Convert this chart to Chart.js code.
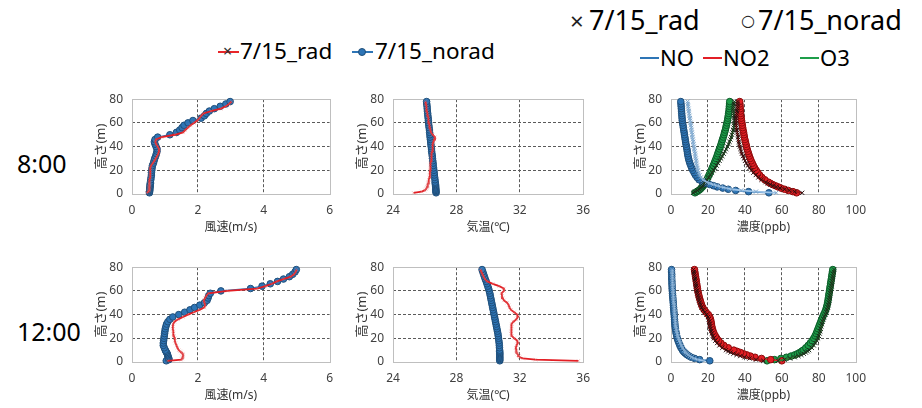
<!DOCTYPE html>
<html>
<head>
<meta charset="utf-8">
<script src="https://cdn.jsdelivr.net/npm/chart.js@4.4.0/dist/chart.umd.min.js"></script>
<style>
  body { margin: 0; width: 922px; height: 408px; background: #fff; position: relative; overflow: hidden; }
  .t { position: absolute; white-space: nowrap; font-family: 'Noto Sans', 'Noto Sans CJK JP', sans-serif; color: #000; }
  .ln { position: absolute; height: 2px; }
  .dot { position: absolute; width: 8px; height: 8px; border-radius: 50%; background: #2E75B6; border: 1px solid #1F4E79; box-sizing: border-box; }
  canvas { position: absolute; }
</style>
</head>
<body>
<!-- row labels -->
<div class="t" style="left:17px;top:147px;font-size:25px;line-height:32px">8:00</div>
<div class="t" style="left:17px;top:315px;font-size:25px;line-height:32px">12:00</div>

<!-- legend for wind / temperature -->
<div class="ln" style="left:218px;top:51px;width:21px;background:#E8262A"></div>
<div class="t" style="left:223px;top:40px;font-size:16px;line-height:22px;color:#333">×</div>
<div class="t" style="left:240px;top:37px;font-size:22.5px;line-height:28px">7/15_rad</div>
<div class="ln" style="left:352px;top:51px;width:21px;background:#2E75B6"></div>
<div class="dot" style="left:358px;top:48px"></div>
<div class="t" style="left:375px;top:37px;font-size:22.5px;line-height:28px">7/15_norad</div>

<!-- legend for concentrations -->
<div class="t" style="left:570px;top:5px;font-size:24px;line-height:32px;color:#222">×</div>
<div class="t" style="left:589px;top:4px;font-size:27px;line-height:32px">7/15_rad</div>
<div class="t" style="left:741px;top:6px;font-size:16px;line-height:30px;color:#222;font-family:'DejaVu Sans'">○</div>
<div class="t" style="left:758px;top:4px;font-size:27px;line-height:32px">7/15_norad</div>
<div class="ln" style="left:640px;top:57px;width:19px;background:#2E75B6"></div>
<div class="t" style="left:660px;top:43px;font-size:22px;line-height:28px">NO</div>
<div class="ln" style="left:703px;top:57px;width:19px;background:#E21F26"></div>
<div class="t" style="left:723px;top:43px;font-size:22px;line-height:28px">NO2</div>
<div class="ln" style="left:800px;top:57px;width:19px;background:#1E9E4A"></div>
<div class="t" style="left:820px;top:43px;font-size:22px;line-height:28px">O3</div>

<canvas id="w8"></canvas>
<canvas id="t8"></canvas>
<canvas id="c8"></canvas>
<canvas id="w12"></canvas>
<canvas id="t12"></canvas>
<canvas id="c12"></canvas>

<script>
// heights of the model levels (m)
const heights = [1,2,3,4,5,6,7,8,9,10, 12,14,16,18,20,22,24,26,28,30,
  32,34,36,38,40,42,44,46,48,50, 52,54,56,58,60,62,64,66,68,70, 72,74,76,78];

// 8:00 wind speed (m/s)
const wind8Rad = [0.45,0.5,0.52,0.52,0.52,0.52,0.53,0.53,0.53,0.54, 0.54,0.55,0.55,0.55,0.56,0.56,0.58,0.63,0.68,0.72,
  0.76,0.8,0.82,0.82,0.78,0.73,0.71,0.73,0.9,1.3, 1.55,1.62,1.7,1.78,1.88,1.98,2.05,2.1,2.17,2.4, 2.7,2.85,2.95,3.02];
const wind8Norad = [0.53,0.53,0.54,0.54,0.54,0.55,0.55,0.55,0.56,0.56, 0.57,0.58,0.59,0.59,0.6,0.61,0.62,0.65,0.67,0.69,
  0.72,0.74,0.76,0.76,0.73,0.7,0.68,0.7,0.78,1.15, 1.35,1.45,1.52,1.58,1.7,1.85,2.1,2.2,2.26,2.35, 2.5,2.68,2.85,2.98];
// 8:00 air temperature (C)
const temp8Rad = [25.3,25.8,26.0,26.08,26.12,26.15,26.18,26.2,26.22,26.24, 26.27,26.3,26.32,26.33,26.34,26.35,26.36,26.38,26.4,26.41,
  26.43,26.45,26.47,26.49,26.5,26.52,26.55,26.6,26.65,26.5, 26.4,26.36,26.33,26.3,26.27,26.25,26.22,26.2,26.17,26.14, 26.12,26.1,26.08,26.06];
const temp8Norad = [26.72,26.71,26.71,26.70,26.70,26.69,26.69,26.68,26.67,26.66, 26.65,26.63,26.61,26.60,26.58,26.56,26.54,26.53,26.51,26.49,
  26.48,26.46,26.44,26.43,26.41,26.39,26.38,26.36,26.34,26.33, 26.31,26.30,26.28,26.26,26.25,26.23,26.22,26.20,26.19,26.17, 26.16,26.15,26.13,26.12];
// 8:00 concentrations (ppb)
const no8Rad = [57,46,38,33,30,27,25,23,21,19.5, 17.5,16.2,15.5,15,14.6,14.3,14.0,13.8,13.6,13.4,
  13.2,13.0,12.8,12.6,12.4,12.2,12.0,11.8,11.6,11.5, 11.3,11.1,11.0,10.8,10.6,10.4,10.2,10.0,9.8,9.6, 9.5,9.3,9.1,9.0];
const no8Norad = [53,42,35,31,28,25,23,21,18.5,17, 15.2,14.1,13.2,12.5,11.8,11.2,10.7,10.2,9.8,9.5,
  9.2,9.0,8.8,8.6,8.4,8.1,7.9,7.7,7.5,7.3, 7.1,6.9,6.7,6.5,6.3,6.1,6.0,5.9,5.8,5.7, 5.6,5.5,5.4,5.3];
const no2_8Rad = [71,67,64,61.5,59,57,55.3,53.8,52.4,51.2, 49,47.3,45.9,44.6,43.5,42.5,41.6,40.8,40.1,39.5,
  38.9,38.4,38.0,37.6,37.3,37.0,36.7,36.5,36.3,36.1, 35.9,35.7,35.5,35.4,35.3,35.2,35.2,35.3,35.5,35.7, 35.9,36.0,36.1,36.2];
const no2_8Norad = [68,66,63.5,61.5,59.5,58,56.5,55,53.8,52.7, 50.8,49.2,48,47,46.1,45.3,44.6,44.0,43.4,42.9,
  42.4,42.0,41.6,41.2,40.9,40.6,40.3,40.0,39.7,39.5, 39.3,39.0,38.8,38.6,38.4,38.2,38.0,37.8,37.7,37.6, 37.5,37.4,37.3,37.2];
const o3_8Rad = [12,13,14.3,15.2,16,16.6,17.2,17.7,18.2,18.6, 19.5,20.4,21.3,22.2,23.0,23.9,24.7,25.5,26.3,27.1,
  27.8,28.5,29.2,29.9,30.6,31.2,31.7,32.2,32.6,33.0, 33.3,33.6,33.9,34.1,34.3,34.3,34.2,34.1,34.0,33.9, 33.8,33.9,34.1,34.3];
const o3_8Norad = [13,14,15,15.8,16.4,17,17.5,17.9,18.3,18.7, 19.4,20.0,20.6,21.2,21.8,22.3,22.9,23.4,23.9,24.4,
  24.9,25.3,25.8,26.2,26.7,27.1,27.5,27.9,28.3,28.7, 29.0,29.4,29.7,30.0,30.3,30.6,30.8,31.0,31.2,31.4, 31.5,31.6,31.7,31.8];

// 12:00 wind speed (m/s)
const wind12Rad = [1.08,1.5,1.52,1.54,1.55,1.55,1.54,1.5,1.46,1.42, 1.38,1.35,1.32,1.3,1.3,1.27,1.26,1.25,1.24,1.24,
  1.25,1.29,1.4,1.55,1.7,1.88,2.05,2.2,2.22,2.2, 2.18,2.22,2.26,2.32,2.9,3.8,4.05,4.25,4.4,4.6, 4.82,4.92,4.97,5.0];
const wind12Norad = [1.04,1.12,1.12,1.1,1.09,1.08,1.07,1.05,1.03,1.01, 0.98,0.95,0.95,0.96,0.97,0.98,0.99,1.0,1.01,1.03,
  1.05,1.09,1.15,1.24,1.42,1.6,1.76,1.9,2.06,2.2, 2.28,2.31,2.33,2.38,2.7,3.6,3.95,4.2,4.42,4.6, 4.78,4.88,4.95,4.99];
// 12:00 air temperature (C)
const temp12Rad = [35.7,33.0,32.2,32.0,31.95,31.9,31.85,31.8,31.78,31.78, 31.75,31.8,31.88,31.85,31.65,31.5,31.45,31.45,31.47,31.5,
  31.5,31.6,31.78,31.88,31.85,31.65,31.45,31.35,31.3,31.2, 31.0,30.92,30.88,30.85,31.0,31.0,30.7,30.3,29.95,29.8, 29.72,29.65,29.58,29.52];
const temp12Norad = [30.74,30.74,30.74,30.74,30.74,30.74,30.74,30.74,30.73,30.73, 30.72,30.71,30.70,30.68,30.66,30.64,30.62,30.59,30.56,30.53,
  30.50,30.47,30.44,30.41,30.38,30.35,30.32,30.29,30.26,30.23, 30.20,30.17,30.14,30.11,30.07,30.03,29.98,29.93,29.88,29.82, 29.77,29.72,29.67,29.62];
// 12:00 concentrations (ppb)
const no12Rad = [18,14.5,12.5,11.2,10.2,9.4,8.7,8.1,7.6,7.1, 6.3,5.6,5.0,4.5,4.1,3.7,3.4,3.1,2.9,2.7,
  2.5,2.4,2.3,2.2,2.1,2.0,1.9,1.8,1.7,1.6, 1.5,1.4,1.3,1.2,1.1,1.0,1.0,0.9,0.9,0.8, 0.8,0.7,0.7,0.6];
const no12Norad = [21,15.5,12.8,11,9.8,8.8,8.0,7.3,6.7,6.2, 5.4,4.8,4.3,3.8,3.4,3.1,2.8,2.6,2.4,2.2,
  2.1,2.0,1.9,1.8,1.7,1.6,1.5,1.4,1.3,1.2, 1.1,1.0,0.9,0.8,0.7,0.6,0.6,0.5,0.5,0.4, 0.4,0.4,0.3,0.3];
const no2_12Rad = [50,46,42.5,39.8,37.5,35.5,33.8,32.3,31,29.8, 27.8,26.2,25,24,23.2,22.6,22.1,21.7,21.4,21.1,
  20.9,20.7,20.4,20.0,19.2,18.2,17.3,16.6,16.0,15.6, 15.2,14.9,14.6,14.3,14.0,13.8,13.6,13.4,13.2,13.0, 12.8,12.6,12.4,12.2];
const no2_12Norad = [60,54,49,45.5,43,41,39.2,37.6,35.8,34, 31,28.6,27,25.8,24.8,24,23.3,22.8,22.4,22.1,
  21.9,21.7,21.4,21.0,20.2,19.0,18.0,17.2,16.6,16.2, 15.8,15.4,15.1,14.8,14.5,14.3,14.1,13.9,13.7,13.5, 13.3,13.1,12.9,12.7];
const o3_12Rad = [58,61.5,64.5,67,69,70.6,71.9,73,74,74.8, 76.2,77.3,78.2,79,79.6,80.1,80.5,80.8,81.1,81.4,
  81.7,82.1,82.5,83,83.6,84.1,84.5,84.9,85.2,85.5, 85.7,85.9,86.1,86.3,86.5,86.7,86.9,87.1,87.3,87.5, 87.7,87.9,88.1,88.3];
const o3_12Norad = [52,56,59.5,62.5,65,67,68.5,69.7,70.7,71.6, 73,74.3,75.4,76.4,77.3,78,78.6,79.1,79.6,80.1,
  80.6,81.1,81.6,82.1,82.7,83.3,83.8,84.2,84.5,84.8, 85.0,85.2,85.4,85.6,85.8,86.0,86.2,86.4,86.6,86.8, 87.0,87.2,87.4,87.6];

// axis ranges: min, max, step
const heightTicks = [0, 80, 20];
const windTicks = [0, 6, 2];
const tempTicks = [24, 36, 4];
const concTicks = [0, 100, 20];

const FONT = "'Noto Sans', 'Noto Sans CJK JP', sans-serif";

// light frame around every plot area
const framePlugin = {
  id: 'frame',
  beforeDatasetsDraw(chart) {
    const {ctx, chartArea: a} = chart;
    ctx.save();
    ctx.strokeStyle = '#bfbfbf';
    ctx.lineWidth = 1;
    ctx.strokeRect(Math.round(a.left) + 0.5, Math.round(a.top) + 0.5, Math.round(a.width), Math.round(a.height));
    ctx.restore();
  }
};

function profile(vals) {
  return vals.map((v, i) => ({x: v, y: heights[i]}));
}

function norad(vals, fill, edge) {
  return {data: profile(vals), showLine: true, borderColor: fill, borderWidth: 1.5,
    pointRadius: 3.3, pointBackgroundColor: fill, pointBorderColor: edge, pointBorderWidth: 1,
    clip: false, order: 1};
}

function rad(vals, line, mark, size) {
  return {data: profile(vals), showLine: true, borderColor: line, borderWidth: 1.8,
    pointStyle: 'crossRot', pointRadius: size, pointBorderColor: mark, pointBorderWidth: 1,
    clip: false, order: 0};
}

function axis(range, extra) {
  const [min, max, step] = range;
  return Object.assign({
    type: 'linear', min, max,
    ticks: {stepSize: step, padding: 9, color: '#404040', font: {family: FONT, size: 12}},
    grid: {drawTicks: false, lineWidth: 1,
      color: c => (c.tick && (c.tick.value === min || c.tick.value === max)) ? 'rgba(0,0,0,0)' : '#5a5a5a'},
    border: {display: false, dash: [3, 2]}
  }, extra);
}

function panel(id, box, xRange, xTitle, datasets) {
  const cv = document.getElementById(id);
  cv.width = box.r - box.l + 39 + 12;
  cv.height = box.b - box.t + 8 + 42;
  cv.style.left = (box.l - 39) + 'px';
  cv.style.top = (box.t - 8) + 'px';
  new Chart(cv, {
    type: 'scatter',
    data: {datasets},
    options: {
      responsive: false,
      animation: false,
      events: [],
      layout: {padding: {top: 8, right: 12, left: 0, bottom: 0}},
      plugins: {legend: {display: false}, tooltip: {enabled: false}},
      scales: {
        x: axis(xRange, {
          title: {display: true, text: xTitle, color: '#333', font: {family: FONT, size: 12}, padding: {top: 0, bottom: 1}},
          afterFit(s) { s.height = 42; }
        }),
        y: axis(heightTicks, {
          title: {display: true, text: '高さ(m)', color: '#333', font: {family: FONT, size: 13}, padding: {top: 0, bottom: 0}},
          afterFit(s) { s.width = 39; }
        })
      }
    },
    plugins: [framePlugin]
  });
}

const blue = '#2E75B6', blueEdge = '#1F4E79';
const red = '#E21F26', redEdge = '#8B0A0A';
const green = '#1E9E4A', greenEdge = '#0B5A28';
const radRed = '#E31E24', radMark = 'rgba(220,110,110,0.35)';

const row1 = {t: 91, b: 194}, row2 = {t: 259, b: 362};
const colW = {l: 132, r: 330}, colT = {l: 393, r: 587}, colC = {l: 671, r: 863};

panel('w8', {...colW, ...row1}, windTicks, '風速(m/s)', [
  norad(wind8Norad, blue, blueEdge), rad(wind8Rad, radRed, radMark, 2.5)]);
panel('t8', {...colT, ...row1}, tempTicks, '気温(℃)', [
  norad(temp8Norad, blue, blueEdge), rad(temp8Rad, radRed, radMark, 2.5)]);
panel('c8', {...colC, ...row1}, concTicks, '濃度(ppb)', [
  norad(no8Norad, blue, blueEdge), norad(no2_8Norad, red, redEdge), norad(o3_8Norad, green, greenEdge),
  rad(no8Rad, '#9DC3E6', '#7FA7CC', 3), rad(no2_8Rad, '#A01818', '#2b1010', 3), rad(o3_8Rad, '#2E7D32', '#1b2b1b', 3)]);

panel('w12', {...colW, ...row2}, windTicks, '風速(m/s)', [
  norad(wind12Norad, blue, blueEdge), rad(wind12Rad, radRed, radMark, 2.5)]);
panel('t12', {...colT, ...row2}, tempTicks, '気温(℃)', [
  norad(temp12Norad, blue, blueEdge), rad(temp12Rad, radRed, radMark, 2.5)]);
panel('c12', {...colC, ...row2}, concTicks, '濃度(ppb)', [
  norad(no12Norad, blue, blueEdge), norad(no2_12Norad, red, redEdge), norad(o3_12Norad, green, greenEdge),
  rad(no12Rad, '#9DC3E6', '#7FA7CC', 3), rad(no2_12Rad, '#A01818', '#2b1010', 3), rad(o3_12Rad, '#2E7D32', '#1b2b1b', 3)]);
</script>
</body>
</html>
